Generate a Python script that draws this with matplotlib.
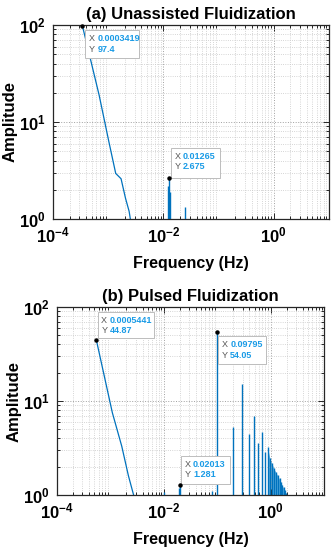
import matplotlib
matplotlib.use("Agg")
import matplotlib.pyplot as plt
from matplotlib.patches import Rectangle
from matplotlib.transforms import offset_copy
import numpy as np

plt.rcParams['font.family'] = ['Liberation Sans', 'DejaVu Sans']
plt.rcParams['font.weight'] = 'bold'

# (a) unassisted: low-frequency decay + small spikes
freq_a = [3.419e-4, 6.838e-4, 1.026e-3, 1.368e-3, 1.710e-3, 2.051e-3, 2.393e-3, 2.735e-3]
amp_a = [97.4, 19.0, 6.3, 2.95, 2.6, 1.65, 1.2, 0.75]
spike_fa = [0.01231, 0.01265, 0.01299, 0.0246]
spike_aa = [2.2, 2.675, 1.9, 1.32]

# (b) pulsed: decay + pulse fundamental and harmonics
freq_b = [5.441e-4, 1.088e-3, 1.632e-3, 2.176e-3, 2.720e-3, 3.265e-3]
amp_b = [44.87, 7.5, 3.3, 1.6, 1.0, 0.6]
spike_fb = [0.0100, 0.01959, 0.02013, 0.0790, 0.09795]
spike_ab = [1.08, 1.18, 1.281, 1.1, 54.05]
harm_f = [0.1959, 0.2939, 0.3918, 0.4898, 0.5877, 0.6857, 0.7836, 0.8816, 0.9795,
          1.0775, 1.1754, 1.2734, 1.3713, 1.4693, 1.5672, 1.6652, 1.7631, 1.8611, 1.959]
harm_a = [5.25, 15.2, 4.5, 7.0, 3.55, 4.65, 2.9, 3.27, 2.46,
          2.17, 1.92, 1.77, 1.63, 1.51, 1.39, 1.28, 1.21, 1.13, 1.04]

blue = '#0072BD'
W, H = 336, 550
fig = plt.figure(figsize=(W / 100, H / 100), dpi=100)


def make_axes(l, r, t, b):
    return fig.add_axes([l / W, (H - b) / H, (r - l) / W, (b - t) / H])


def style(ax, title):
    ax.set_xscale('log')
    ax.set_yscale('log')
    ax.set_xlim(1e-4, 10)
    ax.set_ylim(1, 100)
    ax.set_xticks([1e-4, 1e-2, 1e0])
    ax.set_yticks([1e0, 1e1, 1e2])
    ax.tick_params(which='both', direction='in', top=True, right=True,
                   labelsize=12, color='#262626', width=0.7)
    ax.tick_params(which='major', length=4, pad=5)
    ax.tick_params(which='minor', length=2)
    ax.grid(which='major', ls=':', color='#a0a0a0', lw=0.7)
    ax.grid(which='minor', ls=':', color='#c8c8c8', lw=0.6)
    for s in ax.spines.values():
        s.set_color('#262626')
        s.set_linewidth(0.9)
    ax.set_title(title, fontsize=12, fontweight='bold', pad=4)
    ax.set_xlabel('Frequency (Hz)', fontsize=11.5, fontweight='bold', labelpad=7)
    ax.set_ylabel('Amplitude', fontsize=12, fontweight='bold', labelpad=1)


def datatip(ax, x, y, dx, dy, w, h, xs, ys):
    # dx, dy: pixel offset of box top-left from the point (dy positive = down)
    px, py = ax.transData.transform((x, y))
    ax.add_artist(Rectangle((px + dx + 1, py - dy - h - 1), w, h, transform=None,
                            facecolor='#d8d8d8', edgecolor='none', clip_on=False, zorder=5))
    ax.add_artist(Rectangle((px + dx, py - dy - h), w, h, transform=None,
                            facecolor='white', edgecolor='#bdbdbd', lw=0.7,
                            clip_on=False, zorder=6))
    for i, (lab, val) in enumerate([('X', xs), ('Y', ys)]):
        yy = -dy - 8.5 - i * 10.5
        tr = offset_copy(ax.transData, fig=fig, x=dx + 3.5, y=yy, units='dots')
        ax.text(x, y, lab, transform=tr, fontsize=6.5, fontweight='normal',
                color='#555555', va='center', ha='left', zorder=7, clip_on=False)
        tr2 = offset_copy(ax.transData, fig=fig, x=dx + 12, y=yy, units='dots')
        ax.text(x, y, val, transform=tr2, fontsize=6.5, fontweight='bold',
                color='#1a9be6', va='center', ha='left', zorder=7, clip_on=False)
    ax.plot([x], [y], 'o', ms=2.2, color='black', zorder=8, clip_on=False)


ax1 = make_axes(53, 329, 25, 219)
style(ax1, '(a) Unassisted Fluidization')
ax1.plot(freq_a, amp_a, color=blue, lw=0.9)
ax1.vlines(spike_fa, 0.5, spike_aa, color=blue, lw=1.0)
datatip(ax1, 3.419e-4, 97.4, 3, 4, 54, 28, '0.0003419', '97.4')
datatip(ax1, 0.01265, 2.675, 2, -30, 49, 30, '0.01265', '2.675')

ax2 = make_axes(57, 324, 307, 495)
style(ax2, '(b) Pulsed Fluidization')
ax2.plot(freq_b, amp_b, color=blue, lw=0.9)
ax2.fill_between(harm_f[7:], 0.5, np.array(harm_a[7:]) * 0.97, color='#5aaee0', lw=0)
ax2.vlines(spike_fb, 0.5, spike_ab, color=blue, lw=1.0)
ax2.vlines(harm_f, 0.5, harm_a, color=blue, lw=1.0)
datatip(ax2, 5.441e-4, 44.87, 1.5, -28, 56, 26, '0.0005441', '44.87')
datatip(ax2, 0.09795, 54.05, 1.5, 4, 48, 28, '0.09795', '54.05')
datatip(ax2, 0.02013, 1.281, 1, -29, 49, 28, '0.02013', '1.281')

fig.savefig('out.png', dpi=100)
